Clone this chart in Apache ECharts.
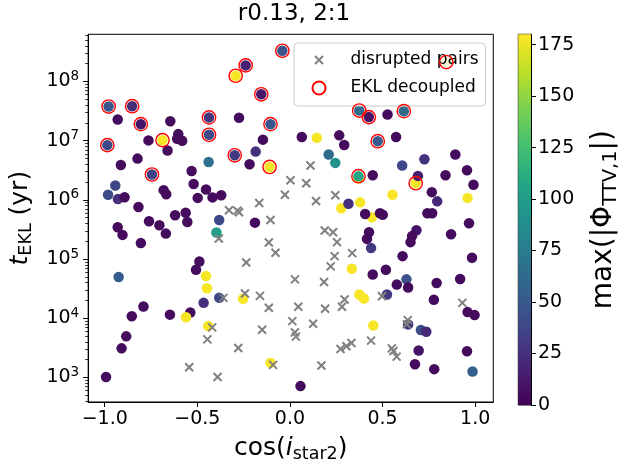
<!DOCTYPE html>
<html>
<head>
<meta charset="utf-8">
<script src="https://cdn.jsdelivr.net/npm/echarts@6.0.0/dist/echarts.min.js"></script>
<style>html,body{margin:0;padding:0;background:#fff;}#chart{width:622px;height:468px;}</style>
</head>
<body>
<div id="chart"></div>
<script>
// ---------- data ----------
const titleText = 'r0.13, 2:1';
const xTickValues = [-1.0, -0.5, 0.0, 0.5, 1.0];
const yTickValues = [1e3, 1e4, 1e5, 1e6, 1e7, 1e8];
const cbarTickValues = [0, 25, 50, 75, 100, 125, 150, 175];

// coloured points: cos(i_star2), t_EKL (yr), max(|Phi_TTV,1|)
const colorX = [
 -0.041,-0.239,-0.293,-0.155,-0.979,-0.852,-0.805,-0.437,-0.105,-0.437,-0.986,-0.688,-0.298,-0.110,-0.745,
 0.844,0.374,0.426,0.615,0.474,0.370,0.370,0.679,
 -0.930,-0.646,-0.275,-0.764,-0.603,-0.609,-0.582,-0.661,-0.146,-0.185,-0.218,-0.823,-0.913,-0.439,-0.531,
 -0.943,-0.982,-0.929,-0.893,-0.682,-0.668,-0.520,-0.453,-0.498,-0.418,-0.371,-0.818,-0.620,-0.563,-0.761,
 -0.705,-0.554,-0.930,-0.382,-0.189,-0.670,-0.904,-0.805,-0.397,-0.925,-0.489,-0.507,-0.453,-0.448,-0.466,
 -0.382,-0.253,-0.791,-0.854,-0.648,-0.538,-0.561,-0.441,-0.884,-0.909,-0.993,-0.105,
 0.442,0.427,0.416,0.438,0.683,0.659,0.651,0.870,0.967,0.983,0.608,0.334,0.447,0.518,0.629,0.577,0.638,
 0.792,0.919,0.777,0.375,0.399,0.524,0.959,0.997,0.450,0.638,0.707,0.736,0.695,0.956,0.675,0.779,0.986,0.057,
 0.527,0.064,0.145,0.266,0.293,0.573,0.209,0.245,0.447,0.606,0.726,0.691,0.840,0.893,0.956,0.991,0.766,
 0.795,0.959,0.554,0.379,0.277,0.316,0.406,0.486,0.501,0.742,0.768
];
const colorT = [
 3.3e8,1.87e8,1.25e8,6.07e7,3.77e7,3.82e7,1.9e7,2.47e7,1.9e7,1.26e7,8.4e6,1.02e7,5.66e6,3.6e6,2.68e6,
 2.13e8,3.23e7,2.5e7,3.15e7,9.8e6,2.32e6,2.51e6,1.91e6,
 2.28e7,2.13e7,2.44e7,1.01e7,1.29e7,1.08e7,1.0e7,6.8e6,1.04e7,6.53e6,4.0e6,4.98e6,3.89e6,4.37e6,3.08e6,
 1.75e6,1.22e6,1.03e6,1.11e6,1.46e6,1.24e6,1.85e6,1.5e6,1.08e6,1.1e6,1.2e6,7.57e5,5.48e5,6.07e5,4.35e5,
 3.72e5,4.24e5,3.45e5,4.58e5,4.12e5,2.69e5,2.56e5,1.86e5,2.8e5,4.98e4,9.12e4,6.61e4,5.18e4,3.21e4,1.82e4,
 2.21e4,2.13e4,1.58e4,1.08e4,1.15e4,1.25e4,1.04e4,7.36e3,4.94e3,3.1e3,1.02e3,1.76e3,
 5.08e5,2.84e5,2.19e5,1.53e5,3.07e5,2.44e5,1.93e5,2.63e5,4.03e5,1.05e5,1.12e5,6.87e4,5.5e4,6.61e4,4.54e4,3.7e4,3.3e4,
 3.95e4,4.61e4,2.05e4,2.51e4,2.15e4,2.51e4,1.27e4,1.13e4,7.56e3,7.87e3,6.31e3,5.93e3,2.85e3,2.77e3,1.67e3,1.38e3,1.26e3,714,
 2.77e7,1.15e7,1.12e7,1.23e7,8.43e6,1.15e7,5.82e6,4.21e6,2.61e6,3.8e6,4.85e6,2.54e6,2.61e6,5.82e6,3.17e6,1.8e6,1.35e6,
 9.44e5,1.08e6,1.22e6,9.08e5,7.2e5,8.59e5,5.77e5,5.93e5,5.62e5,5.93e5,5.93e5
];
const colorPhi = [
 45,15,178,12,47,22,10,28,47,40,40,178,30,178,35,
 178,62,8,62,50,178,105,178,
 5,5,5,5,5,5,5,5,5,25,5,5,5,68,5,
 38,42,25,5,5,5,5,5,5,5,5,5,5,5,5,
 5,5,5,40,5,5,5,5,100,52,5,5,178,178,25,
 38,178,5,5,5,5,178,178,5,5,5,178,
 178,5,5,30,10,5,5,5,5,5,5,178,5,5,45,5,5,
 5,5,5,178,178,30,5,5,178,25,42,20,10,5,5,5,55,5,
 5,5,178,5,5,5,62,90,5,38,25,15,5,5,5,5,5,
 20,178,178,178,178,25,5,5,5,5,5
];

// disrupted pairs (crosses)
const disruptedX = [
 -0.329,-0.284,-0.275,-0.166,-0.105,-0.027,0.003,-0.384,-0.114,-0.078,-0.236,-0.359,-0.243,-0.162,-0.114,
 -0.420,-0.446,-0.150,-0.279,-0.544,-0.391,-0.091,
 0.188,0.233,0.254,0.336,0.241,0.220,0.027,0.184,0.295,0.281,0.497,0.045,0.190,0.013,0.125,0.027,0.032,
 0.636,0.631,0.931,0.332,0.305,0.273,0.438,0.550,0.559,0.576,0.170,0.111,0.088,0.141,0.245
];
const disruptedT = [
 6.67e5,6.57e5,6.17e5,8.83e5,4.58e5,1.22e6,2.15e6,2.22e5,1.9e5,1.28e5,8.77e4,2.21e4,2.61e4,2.39e4,1.5e4,
 7.0e3,4.4e3,6.41e3,3.14e3,1.49e3,1.02e3,1.63e3,
 3.03e5,2.84e5,1.93e5,1.26e5,1.12e5,7.51e4,4.54e4,4.1e4,2.07e4,1.56e4,2.35e4,1.56e4,1.45e4,8.93e3,8.09e3,5.77e3,4.89e3,
 9.3e3,7.87e3,1.82e4,3.82e3,3.36e3,3.03e3,4.19e3,3.1e3,2.8e3,2.25e3,1.59e3,3.8e6,1.91e6,9.55e5,1.2e6
];

// EKL decoupled (red rings)
const decoupledX = [-0.041,-0.239,-0.293,-0.155,-0.979,-0.852,-0.805,-0.437,-0.105,-0.437,-0.986,-0.688,-0.298,-0.110,-0.745,0.844,0.374,0.426,0.615,0.474,0.370,0.679];
const decoupledT = [3.3e8,1.87e8,1.25e8,6.07e7,3.77e7,3.82e7,1.9e7,2.47e7,1.9e7,1.26e7,8.4e6,1.02e7,5.66e6,3.6e6,2.68e6,2.13e8,3.23e7,2.5e7,3.15e7,9.8e6,2.51e6,1.91e6];

// ---------- styling constants ----------
const viridis = ['#440154','#482475','#414487','#355f8d','#2a788e','#21918c','#22a884','#44bf70','#7ad151','#bddf26','#fde725'];
const FONT = 'DejaVu Sans';
const xMin = -1.0895, xMax = 1.098;
const yMin = Math.pow(10, 2.585), yMax = Math.pow(10, 8.797);
const phiMin = 0, phiMax = 180;

const colorData = colorX.map((x, i) => [x, colorT[i], colorPhi[i]]);
const disruptedData = disruptedX.map((x, i) => [x, disruptedT[i]]);
const decoupledData = decoupledX.map((x, i) => [x, decoupledT[i]]);

const minorTicks = [];
for (let e = 2; e <= 8; e++) {
  for (let m = 2; m <= 9; m++) {
    const v = m * Math.pow(10, e);
    if (v > yMin && v < yMax) minorTicks.push(v);
  }
}

const gradStops = viridis.map((c, i) => ({ offset: i / (viridis.length - 1), color: c }));

const chart = echarts.init(document.getElementById('chart'), null, { renderer: 'canvas' });
const black = '#000';

chart.setOption({
  animation: false,
  backgroundColor: '#fff',
  textStyle: { fontFamily: FONT, color: black },
  title: {
    text: titleText, left: 289, textAlign: 'center', top: -2,
    textStyle: { fontFamily: FONT, fontSize: 23, fontWeight: 'normal', color: black }
  },
  legend: {
    left: 294, top: 43, orient: 'vertical',
    padding: [8.5, 7, 9.5, 17.5],
    itemWidth: 13, itemHeight: 13, itemGap: 11,
    backgroundColor: 'rgba(255,255,255,0.8)', borderColor: '#cccccc', borderWidth: 1, borderRadius: 4,
    textStyle: { fontFamily: FONT, fontSize: 17, color: black, lineHeight: 13, padding: [0, 0, 0, 20] },
    data: [
      { name: 'disrupted pairs', icon: 'path://M0,0M13,13M2.5,2.5L10.5,10.5M10.5,2.5L2.5,10.5' },
      { name: 'EKL decoupled', icon: 'circle' }
    ]
  },
  grid: [
    { left: 85, top: 34.3, width: 408.3, height: 370.7, show: true, borderColor: black, borderWidth: 1, backgroundColor: 'transparent' },
    { left: 518.3, top: 34.3, width: 19.4, height: 370.7, show: true, borderColor: black, borderWidth: 1, backgroundColor: 'transparent' }
  ],
  visualMap: {
    type: 'continuous', show: false, min: phiMin, max: phiMax, dimension: 2, seriesIndex: 0,
    inRange: { color: viridis }
  },
  xAxis: [
    {
      type: 'value', gridIndex: 0, min: xMin, max: xMax,
      axisLine: { show: true, onZero: false, lineStyle: { color: black, width: 1 } },
      axisTick: { show: true, length: 5, customValues: xTickValues, lineStyle: { color: black, width: 1 } },
      axisLabel: {
        customValues: xTickValues, fontSize: 19, color: black, margin: 8, fontFamily: FONT,
        formatter: v => (v < 0 ? '\u2212' + Math.abs(v).toFixed(1) : v.toFixed(1))
      },
      splitLine: { show: false },
      name: '{n|cos(}{i|i}{s|star2}{n|)}', nameLocation: 'middle', nameGap: 31,
      nameTextStyle: {
        rich: {
          n: { fontFamily: FONT, fontSize: 25, color: black, lineHeight: 30 },
          i: { fontFamily: FONT, fontSize: 25, fontStyle: 'italic', color: black, lineHeight: 30 },
          s: { fontFamily: FONT, fontSize: 17.5, color: black, lineHeight: 17, verticalAlign: 'bottom' }
        }
      }
    },
    {
      type: 'category', gridIndex: 1, data: ['c'], show: false,
      axisLine: { show: false }, axisTick: { show: false }, axisLabel: { show: false }
    }
  ],
  yAxis: [
    {
      type: 'log', logBase: 10, gridIndex: 0, position: 'left', min: yMin, max: yMax,
      axisLine: { show: true, onZero: false, lineStyle: { color: black, width: 1 } },
      axisTick: { show: true, length: 5, customValues: yTickValues, lineStyle: { color: black, width: 1 } },
      axisLabel: {
        customValues: yTickValues, margin: 9, color: black,
        formatter: v => '{b|10}{p|' + Math.round(Math.log10(v)) + '}',
        rich: {
          b: { fontFamily: FONT, fontSize: 19, color: black, lineHeight: 24 },
          p: { fontFamily: FONT, fontSize: 13.5, color: black, lineHeight: 12, verticalAlign: 'top' }
        }
      },
      splitLine: { show: false },
      name: '{i|t}{s|EKL}{n| (yr)}', nameLocation: 'middle', nameGap: 52, nameRotate: 90,
      nameTextStyle: {
        rich: {
          i: { fontFamily: FONT, fontSize: 25, fontStyle: 'italic', color: black, lineHeight: 30 },
          s: { fontFamily: FONT, fontSize: 17.5, color: black, lineHeight: 17, verticalAlign: 'bottom' },
          n: { fontFamily: FONT, fontSize: 25, color: black, lineHeight: 30 }
        }
      }
    },
    {
      type: 'log', logBase: 10, gridIndex: 0, position: 'left', offset: 0, min: yMin, max: yMax,
      axisLine: { show: false, onZero: false },
      axisTick: { show: true, length: 3, customValues: minorTicks, lineStyle: { color: black, width: 0.8 } },
      axisLabel: { show: false },
      splitLine: { show: false }
    },
    {
      type: 'value', gridIndex: 1, position: 'right', min: phiMin, max: phiMax,
      axisLine: { show: true, onZero: false, lineStyle: { color: black, width: 1 } },
      axisTick: { show: true, length: 5, customValues: cbarTickValues, lineStyle: { color: black, width: 1 } },
      axisLabel: { customValues: cbarTickValues, fontSize: 19, color: black, margin: 7, fontFamily: FONT },
      splitLine: { show: false },
      name: '{n|max(|Φ}{s|TTV,1}{n||)}', nameLocation: 'middle', nameGap: 56, nameRotate: 90,
      nameTextStyle: {
        rich: {
          n: { fontFamily: FONT, fontSize: 28, color: black, lineHeight: 34 },
          s: { fontFamily: FONT, fontSize: 19.5, color: black, lineHeight: 19, verticalAlign: 'bottom' }
        }
      }
    }
  ],
  series: [
    {
      type: 'scatter', xAxisIndex: 0, yAxisIndex: 0, data: colorData,
      symbol: 'circle', symbolSize: 10.5, itemStyle: { opacity: 1 }, z: 2
    },
    {
      name: 'disrupted pairs', type: 'scatter', xAxisIndex: 0, yAxisIndex: 0, data: disruptedData,
      symbol: 'path://M0,0L1,1M1,0L0,1', symbolSize: 8,
      itemStyle: { color: 'rgba(0,0,0,0)', borderColor: '#808080', borderWidth: 2, opacity: 1 }, z: 3
    },
    {
      name: 'EKL decoupled', type: 'scatter', xAxisIndex: 0, yAxisIndex: 0, data: decoupledData,
      symbol: 'circle', symbolSize: 13.3,
      itemStyle: { color: 'rgba(0,0,0,0)', borderColor: '#ff0000', borderWidth: 1.4, opacity: 1 }, z: 4
    },
    {
      type: 'bar', xAxisIndex: 1, yAxisIndex: 2, data: [phiMax], barWidth: '100%', silent: true,
      itemStyle: { color: new echarts.graphic.LinearGradient(0, 1, 0, 0, gradStops) }
    }
  ]
});
</script>
</body>
</html>
